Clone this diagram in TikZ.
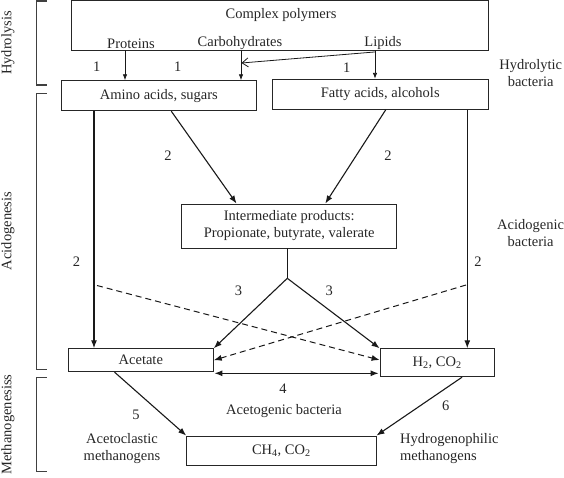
\documentclass[tikz,border=0pt]{standalone}
\usepackage{fontspec}
\setmainfont{Liberation Serif}
\usetikzlibrary{arrows.meta,calc}
\begin{document}
\begin{tikzpicture}[x=1pt,y=-1pt,
  lbl/.style={font=\fontsize{14.5}{17}\selectfont, text=black!85, inner sep=0pt},
  box/.style={draw=black!85, line width=0.9pt, inner sep=0pt, align=center,
              font=\fontsize{14.5}{17}\selectfont, text=black!85},
  arr/.style={draw=black!90, line width=1.1pt, -{Latex[length=8pt,width=6pt]}},
  thinarr/.style={draw=black!90, line width=0.8pt, -{Latex[length=6pt,width=4.5pt]}},
  openarr/.style={draw=black!90, line width=0.8pt, -{Straight Barb[length=6pt,width=9pt]}},
  dasharr/.style={draw=black!90, line width=1pt, dash pattern=on 6pt off 4pt,
              -{Latex[length=8pt,width=6pt]}},
  bothsides/.style={draw=black!90, line width=1.1pt,
              {Latex[length=8pt,width=6pt]}-{Latex[length=8pt,width=6pt]}},
  bracket/.style={draw=black!75, line width=1.2pt},
]
\useasboundingbox (0,0) rectangle (564,477);

% boxes
\node[box, minimum width=416.5pt, minimum height=49.5pt] (poly) at (279.75,25.25) {};
\node[box, minimum width=195.7pt, minimum height=30pt] (amino) at (158.85,95.7) {Amino acids, sugars};
\node[box, minimum width=215.5pt, minimum height=30pt] (fatty) at (380.25,94.3) {Fatty acids, alcohols};
\node[box, minimum width=215pt, minimum height=44pt] (inter) at (289.2,226) {Intermediate products:\\Propionate, butyrate, valerate};
\node[box, minimum width=145pt, minimum height=23pt] (acetate) at (140.8,360.2) {Acetate};
\node[box, minimum width=114.3pt, minimum height=28pt] (h2) at (437.2,362.7) {H\textsubscript{2}, CO\textsubscript{2}};
\node[box, minimum width=189.3pt, minimum height=29pt] (ch4) at (281.35,450.5) {CH\textsubscript{4}, CO\textsubscript{2}};

% texts inside the polymer box
\node[lbl] (tpoly) at (281,15) {Complex polymers};
\node[lbl] (tprot) at (131,43.5) {Proteins};
\node[lbl] (tcarb) at (240,43.5) {Carbohydrates};
\node[lbl] (tlip) at (383,43.5) {Lipids};

% helper coordinates
\coordinate (xp) at (125,0);
\coordinate (xc) at (241,0);
\coordinate (xl) at (375,0);
\coordinate (lc) at (241.5,63);
\coordinate (xal) at (94,0);
\coordinate (xfr) at (467.3,0);
\coordinate (fork) at (287.3,278.3);
\coordinate (dl) at (97,285.5);
\coordinate (dr) at (466,285);
\coordinate (ya) at (0,373.3);

% hydrolysis arrows
\draw[thinarr] (xp |- poly.south) -- (xp |- amino.north);
\draw[thinarr] (xc |- poly.south) -- (xc |- amino.north);
\draw[thinarr] (xl |- poly.south) -- (xl |- fatty.north);
\draw[openarr] ([yshift=-1.5pt]xl |- poly.south) -- (lc);

% acidogenesis arrows
\draw[arr] ([xshift=110.7pt]amino.south west) -- ([xshift=55.3pt]inter.north west);
\draw[arr] ([xshift=113.7pt]fatty.south west) -- ([xshift=144pt]inter.north west);
\draw[arr] (xal |- amino.south) -- (xal |- acetate.north);
\draw[arr] (xfr |- fatty.south) -- (xfr |- h2.north);
\draw[line width=1.1pt, draw=black!90] (fork |- inter.south) -- (fork);
\draw[arr] (fork) -- (acetate.north east);
\draw[arr] (fork) -- (h2.north west);
\draw[dasharr] (dl) -- ([yshift=2.7pt]h2.west);
\draw[dasharr] (dr) -- (acetate.east);
\draw[bothsides] ([xshift=0.7pt]acetate.east |- ya) -- ([xshift=-1pt]h2.west |- ya);

% methanogenesis arrows
\draw[arr] ([xshift=46.7pt]acetate.south west) -- (ch4.north west);
\draw[arr] ([xshift=82.5pt]h2.south west) -- (ch4.north east);

% numbers
\node[lbl] (n1a) at (96.7,66.7) {1};
\node[lbl] (n1b) at (177.7,66.7) {1};
\node[lbl] (n1c) at (346.7,67.7) {1};
\node[lbl] (n2a) at (168,155.7) {2};
\node[lbl] (n2b) at (388,155.7) {2};
\node[lbl] (n2c) at (76.6,262) {2};
\node[lbl] (n2d) at (478,262) {2};
\node[lbl] (n3a) at (238.5,290.5) {3};
\node[lbl] (n3b) at (329.3,291) {3};
\node[lbl] (n4) at (283,389) {4};
\node[lbl] (n5) at (136,415) {5};
\node[lbl] (n6) at (445.7,405.7) {6};

% organism labels
\node[lbl, align=center] (hydb) at (530.7,73) {Hydrolytic\\bacteria};
\node[lbl, align=center] (acib) at (530.6,233) {Acidogenic\\bacteria};
\node[lbl, align=center] (acet) at (284,411) {Acetogenic bacteria};
\node[lbl, align=center] (acl) at (122,448.5) {Acetoclastic\\methanogens};
\node[lbl, align=left, anchor=west] (hyd) at (400,448.5) {Hydrogenophilic\\methanogens};

% brackets
\draw[bracket] (46.7,1) -- (36.7,1) -- (36.7,85) -- (46.7,85);
\draw[bracket] (46.7,93.3) -- (36.7,93.3) -- (36.7,369.3) -- (46.7,369.3);
\draw[bracket] (46.7,377.7) -- (36.7,377.7) -- (36.7,471.7) -- (46.7,471.7);
\node[lbl, rotate=90] (phy) at (8,43) {Hydrolysis};
\node[lbl, rotate=90] (pac) at (8,231) {Acidogenesis};
\node[lbl, rotate=90] (pme) at (8,424.5) {Methanogenesiss};
\end{tikzpicture}
\end{document}
